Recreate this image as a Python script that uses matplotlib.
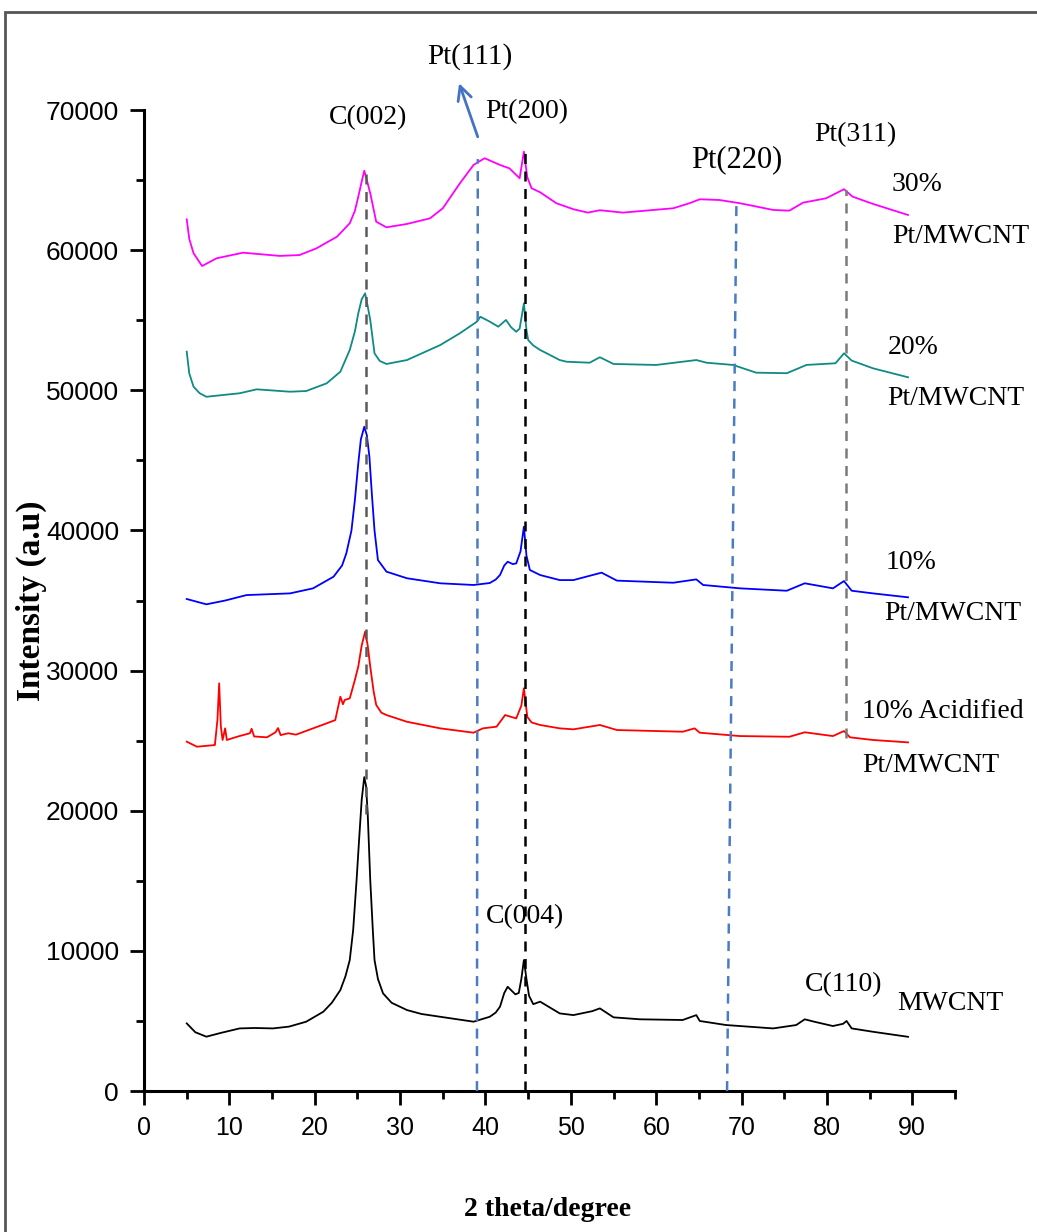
import matplotlib
matplotlib.use("Agg")
import matplotlib.pyplot as plt
from matplotlib import font_manager
from matplotlib.ticker import MultipleLocator
from matplotlib.patches import Rectangle

# ---------------- data ----------------
x_mwcnt = [5.0, 6.0, 7.3, 9.0, 11.2, 13.0, 15.1, 17.0, 19.0, 21.0, 22.0, 23.0, 23.6, 24.1, 24.5, 24.9,
           25.2, 25.5, 25.8, 26.0, 26.2, 26.5, 26.8, 27.0, 27.4, 28.0, 29.0, 30.8, 32.5, 34.7, 38.6,
           40.5, 41.2, 41.7, 42.2, 42.6, 43.0, 43.5, 43.9, 44.2, 44.5, 44.8, 45.1, 45.6, 46.4, 48.7,
           50.3, 52.5, 53.4, 55.0, 58.1, 63.1, 64.7, 65.1, 68.2, 73.7, 76.4, 77.4, 78.5, 80.7, 81.9,
           82.3, 82.9, 85.4, 89.5]
y_mwcnt = [4830, 4200, 3880, 4150, 4470, 4500, 4470, 4600, 4950, 5660, 6300, 7210, 8200, 9350, 11500, 15060,
           18000, 20800, 22400, 21800, 19840, 15060, 11500, 9350, 8000, 6970, 6300, 5780, 5500, 5300, 4950,
           5300, 5600, 6020, 7000, 7440, 7200, 6900, 7000, 8000, 9350, 8000, 6800, 6200, 6380, 5540,
           5420, 5700, 5900, 5260, 5120, 5070, 5420, 5000, 4710, 4470, 4710, 5120, 4950, 4640, 4800,
           5000, 4470, 4230, 3870]

x_acid = [5.0, 6.2, 8.3, 8.6, 8.8, 9.0, 9.2, 9.5, 9.7, 11.0, 12.4, 12.6, 12.9, 14.4, 15.4, 15.7, 16.0,
          16.9, 17.8, 19.8, 21.4, 22.4, 23.0, 23.3, 23.5, 24.1, 24.7, 25.1, 25.5, 25.9, 26.2, 26.5,
          26.9, 27.2, 27.8, 28.4, 30.8, 34.7, 38.6, 39.7, 41.3, 42.3, 43.6, 44.2, 44.5, 44.9, 45.4,
          46.4, 48.7, 50.3, 53.4, 55.4, 63.1, 64.5, 65.1, 69.8, 75.6, 77.4, 80.7, 82.0, 82.7, 85.4,
          89.5]
y_acid = [24930, 24570, 24690, 26500, 29090, 26000, 25050, 25880, 25050, 25300, 25530, 25850, 25300,
          25240, 25600, 25900, 25400, 25530, 25430, 25880, 26240, 26470, 28140, 27600, 27900, 28020,
          29330, 30300, 31800, 32780, 31800, 30280, 28500, 27550, 27000, 26830, 26350, 25880, 25570,
          25880, 26000, 26830, 26590, 27500, 28740, 26700, 26300, 26120, 25880, 25810, 26120, 25760,
          25640, 25880, 25570, 25330, 25280, 25600, 25330, 25690, 25240, 25050, 24880]

x_10 = [5.0, 7.3, 9.5, 12.0, 17.1, 19.8, 22.2, 23.2, 23.7, 24.3, 24.7, 25.1, 25.4, 25.8, 26.1, 26.4,
        26.7, 27.0, 27.4, 28.4, 30.8, 34.7, 38.6, 40.5, 41.2, 41.7, 42.2, 42.6, 43.2, 43.6, 44.1,
        44.5, 44.8, 45.2, 46.4, 48.7, 50.3, 53.6, 55.4, 62.0, 64.7, 65.5, 69.8, 75.3, 77.4, 80.7,
        82.0, 82.9, 85.4, 89.5]
y_10 = [35110, 34730, 35000, 35390, 35510, 35870, 36700, 37500, 38370, 40000, 42170, 44800, 46500,
        47400, 46800, 45270, 42500, 40000, 37890, 37060, 36590, 36230, 36110, 36250, 36500, 36820,
        37500, 37770, 37600, 37650, 38500, 40270, 38200, 37180, 36820, 36460, 36460, 36990, 36420,
        36270, 36510, 36110, 35870, 35700, 36230, 35870, 36390, 35700, 35510, 35230]

x_20 = [5.0, 5.3, 5.8, 6.5, 7.3, 11.2, 13.2, 17.1, 19.0, 21.4, 23.0, 24.1, 24.7, 25.1, 25.5, 25.9,
        26.2, 26.5, 27.0, 27.6, 28.4, 30.8, 34.7, 37.0, 39.0, 39.4, 40.5, 41.5, 42.4, 43.0, 43.6,
        44.0, 44.5, 44.8, 45.0, 45.6, 46.4, 48.7, 49.5, 52.2, 53.4, 55.0, 60.0, 64.7, 65.9, 69.0,
        71.7, 75.3, 77.6, 81.0, 82.0, 82.9, 85.4, 89.5]
y_20 = [52760, 51200, 50260, 49800, 49540, 49790, 50070, 49900, 49950, 50500, 51330, 52880, 54200,
        55500, 56500, 56920, 56000, 55020, 52640, 52100, 51880, 52160, 53230, 54070, 54900, 55250,
        54900, 54540, 55020, 54500, 54180, 54400, 56210, 54300, 53590, 53200, 52880, 52160, 52040,
        51970, 52360, 51880, 51810, 52160, 51970, 51810, 51260, 51220, 51810, 51930, 52640, 52120,
        51570, 50930]

x_30 = [5.0, 5.3, 5.8, 6.8, 8.5, 11.6, 15.9, 18.2, 20.2, 22.6, 24.1, 24.7, 25.1, 25.5, 25.8, 26.1,
        26.5, 27.2, 28.4, 30.8, 33.5, 35.0, 37.0, 38.6, 39.9, 41.7, 42.8, 44.0, 44.5, 44.9, 45.4,
        46.4, 48.3, 50.3, 52.0, 53.4, 56.1, 62.0, 63.9, 65.1, 67.4, 69.8, 73.7, 75.6, 77.2, 79.9,
        82.0, 83.0, 85.4, 89.5]
y_30 = [62200, 60800, 59780, 58870, 59420, 59820, 59590, 59650, 60130, 60960, 61920, 62800, 63820,
        64900, 65670, 65000, 64060, 62030, 61630, 61870, 62270, 62990, 64770, 66080, 66560, 66080,
        65840, 65130, 67030, 65200, 64420, 64130, 63350, 62920, 62680, 62850, 62680, 62990, 63350,
        63630, 63580, 63350, 62870, 62820, 63390, 63700, 64350, 63820, 63300, 62510]

# reference (guide) lines: x positions at bottom/top, y range
guide_x0 = [25.95, 44.6, 39.0, 68.3, 82.2]
guide_x1 = [25.95, 44.6, 39.1, 69.4, 82.2]
guide_y0 = [19800, 0, 0, 0, 25200]
guide_y1 = [65600, 67000, 66500, 63500, 64300]
guide_colors = ["#5a5a5a", "#000000", "#4a7cc4", "#4a7cc4", "#7a7a7a"]

peak_labels = ["C(002)", "Pt(200)", "Pt(111)", "Pt(220)", "Pt(311)", "C(004)", "C(110)"]
peak_lx = [26.2, 44.8, 38.2, 69.4, 83.3, 44.6, 81.9]
peak_ly = [69430, 69860, 73790, 66440, 68220, 12420, 7560]
peak_fs = [20, 20, 21, 22, 20, 20, 20]

series_labels = ["30%", "Pt/MWCNT", "20%", "Pt/MWCNT", "10%", "Pt/MWCNT",
                 "10% Acidified", "Pt/MWCNT", "MWCNT"]
series_lx = [87.6, 87.6, 87.1, 87.1, 86.9, 86.7, 84.1, 84.1, 88.2]
series_ly = [64650, 60940, 53020, 49450, 37680, 34040, 27050, 23260, 6280]

# ---------------- fonts ----------------
names = {f.name for f in font_manager.fontManager.ttflist}
if "Liberation Sans Narrow" in names:
    tick_family = ["Liberation Sans Narrow", "DejaVu Sans"]
    tick_fs_y, tick_fs_x = 22, 21
else:
    tick_family = ["Liberation Sans", "DejaVu Sans"]
    tick_fs_y, tick_fs_x = 19, 18
serif = ["Liberation Serif", "DejaVu Serif"]

fig = plt.figure(figsize=(10.37, 12.32), dpi=100)
ax = fig.add_axes([0.1389, 0.1144, 0.782, 0.7963])

lw = 1.3
ax.plot(x_mwcnt, y_mwcnt, color="black", lw=lw)
ax.plot(x_acid, y_acid, color="#ff0000", lw=lw)
ax.plot(x_10, y_10, color="#0000ff", lw=lw)
ax.plot(x_20, y_20, color="#0f8a84", lw=lw)
ax.plot(x_30, y_30, color="#ff00ff", lw=lw)

for xa, xb, ya, yb, c in zip(guide_x0, guide_x1, guide_y0, guide_y1, guide_colors):
    ax.plot([xa, xb], [ya, yb], color=c, lw=1.8, ls=(0, (4, 3)), zorder=3)

ax.set_xlim(0, 95)
ax.set_ylim(0, 70000)
ax.xaxis.set_major_locator(MultipleLocator(10))
ax.xaxis.set_minor_locator(MultipleLocator(5))
ax.yaxis.set_major_locator(MultipleLocator(10000))
ax.yaxis.set_minor_locator(MultipleLocator(5000))
ax.set_xticks(range(0, 100, 10))
ax.set_xticklabels([str(v) for v in range(0, 100, 10)])

for s in ["top", "right"]:
    ax.spines[s].set_visible(False)
for s in ["left", "bottom"]:
    ax.spines[s].set_linewidth(2.2)

ax.tick_params(which="major", direction="out", length=10, width=2, pad=8)
ax.tick_params(which="minor", direction="out", length=6, width=2)
for lab in ax.get_xticklabels():
    lab.set_family(tick_family)
    lab.set_fontsize(tick_fs_x)
for lab in ax.get_yticklabels():
    lab.set_family(tick_family)
    lab.set_fontsize(tick_fs_y)

ax.set_xlabel("2 theta/degree", family=serif, fontweight="bold", fontsize=20)
ax.xaxis.set_label_coords(0.497, -0.108)
ax.set_ylabel("Intensity (a.u)", family=serif, fontweight="bold", fontsize=24)
ax.yaxis.set_label_coords(-0.12, 0.5)

for t, x, y, fs in zip(peak_labels, peak_lx, peak_ly, peak_fs):
    ax.text(x, y, t, ha="center", va="center", family=serif, fontsize=fs, clip_on=False)
for t, x, y in zip(series_labels, series_lx, series_ly):
    ax.text(x, y, t, ha="left", va="center", family=serif, fontsize=20, clip_on=False)

ax.annotate("", xy=(36.8, 72100), xytext=(39.2, 67900),
            arrowprops=dict(arrowstyle="->", color="#4472c4", lw=2, mutation_scale=25),
            annotation_clip=False)

# outer frame of the figure
fig.patches.append(Rectangle((5 / 1037, -0.05), 1.2, (1232 - 12) / 1232 + 0.05,
                             transform=fig.transFigure, fill=False,
                             edgecolor="#555555", lw=2))

fig.savefig("out.png", dpi=100)
